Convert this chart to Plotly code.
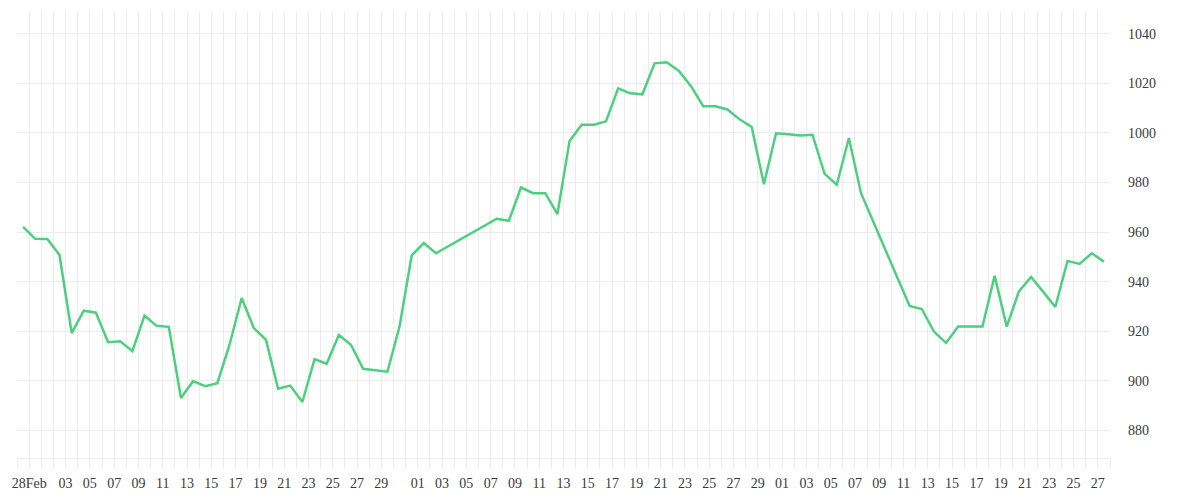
import plotly.graph_objects as go

# ---- data ----
dates = [
    "2023-02-27", "2023-02-28", "2023-03-01", "2023-03-02", "2023-03-03", "2023-03-04",
    "2023-03-05", "2023-03-06", "2023-03-07", "2023-03-08", "2023-03-09", "2023-03-10",
    "2023-03-11", "2023-03-12", "2023-03-13", "2023-03-14", "2023-03-15", "2023-03-16",
    "2023-03-17", "2023-03-18", "2023-03-19", "2023-03-20", "2023-03-21", "2023-03-22",
    "2023-03-23", "2023-03-24", "2023-03-25", "2023-03-26", "2023-03-27", "2023-03-28",
    "2023-03-29", "2023-03-30", "2023-03-31", "2023-04-01", "2023-04-02",
    "2023-04-07", "2023-04-08", "2023-04-09", "2023-04-10", "2023-04-11", "2023-04-12",
    "2023-04-13", "2023-04-14", "2023-04-15", "2023-04-16", "2023-04-17", "2023-04-18",
    "2023-04-19", "2023-04-20", "2023-04-21", "2023-04-22", "2023-04-23", "2023-04-24",
    "2023-04-25", "2023-04-26", "2023-04-27", "2023-04-28", "2023-04-29", "2023-04-30",
    "2023-05-01", "2023-05-02", "2023-05-03", "2023-05-04", "2023-05-05", "2023-05-06",
    "2023-05-07",
    "2023-05-11", "2023-05-12", "2023-05-13", "2023-05-14", "2023-05-15", "2023-05-16",
    "2023-05-17", "2023-05-18", "2023-05-19", "2023-05-20", "2023-05-21", "2023-05-22",
    "2023-05-23", "2023-05-24", "2023-05-25", "2023-05-26", "2023-05-27",
]
values = [
    962.1, 957.3, 957.2, 950.8, 919.3, 928.3,
    927.5, 915.6, 916.0, 912.0, 926.3, 922.2,
    921.8, 893.1, 899.9, 897.9, 899.1, 914.6,
    933.4, 921.3, 916.6, 896.8, 898.1, 891.5,
    908.8, 906.9, 918.5, 914.6, 904.9, 904.2,
    903.7, 921.9, 950.6, 955.6, 951.5,
    965.4, 964.6, 978.0, 975.7, 975.7, 967.3,
    996.8, 1003.3, 1003.3, 1004.7, 1018.0, 1016.0,
    1015.6, 1028.1, 1028.5, 1025.0, 1018.9, 1010.8,
    1010.8, 1009.5, 1005.5, 1002.4, 979.3, 999.9,
    999.5, 999.0, 999.3, 983.5, 979.1, 998.0,
    975.7,
    930.2, 929.0, 919.9, 915.3, 921.9, 921.9,
    921.9, 942.4, 921.9, 936.1, 941.9, 935.9,
    929.8, 948.4, 947.2, 951.5, 948.1,
]

x_tick_dates = [
    "2023-02-28",
    "2023-03-03", "2023-03-05", "2023-03-07", "2023-03-09", "2023-03-11", "2023-03-13",
    "2023-03-15", "2023-03-17", "2023-03-19", "2023-03-21", "2023-03-23", "2023-03-25",
    "2023-03-27", "2023-03-29",
    "2023-04-01", "2023-04-03", "2023-04-05", "2023-04-07", "2023-04-09", "2023-04-11",
    "2023-04-13", "2023-04-15", "2023-04-17", "2023-04-19", "2023-04-21", "2023-04-23",
    "2023-04-25", "2023-04-27", "2023-04-29",
    "2023-05-01", "2023-05-03", "2023-05-05", "2023-05-07", "2023-05-09", "2023-05-11",
    "2023-05-13", "2023-05-15", "2023-05-17", "2023-05-19", "2023-05-21", "2023-05-23",
    "2023-05-25", "2023-05-27",
]
x_tick_text = [
    "28Feb",
    "03", "05", "07", "09", "11", "13", "15", "17", "19", "21", "23", "25", "27", "29",
    "01", "03", "05", "07", "09", "11", "13", "15", "17", "19", "21", "23", "25", "27", "29",
    "01", "03", "05", "07", "09", "11", "13", "15", "17", "19", "21", "23", "25", "27",
]
y_tick_vals = [880, 900, 920, 940, 960, 980, 1000, 1020, 1040]
y_tick_text = ["880", "900", "920", "940", "960", "980", "1000", "1020", "1040"]

x_range = ["2023-02-27 00:00", "2023-05-28 00:00"]
y_range = [868.9, 1048.8]

# ---- figure ----
grid = "#ececec"
x_points = [d + " 12:00" for d in dates]

fig = go.Figure()
fig.add_trace(go.Scatter(
    x=x_points, y=values, mode="lines",
    line=dict(color="#4cd07d", width=2.5),
    hoverinfo="skip", showlegend=False,
))

fig.update_layout(
    width=1192, height=492,
    margin=dict(l=7, r=90, t=4, b=42),
    paper_bgcolor="white", plot_bgcolor="white",
    font=dict(family="Liberation Serif", size=14, color="#3a3a3a"),
    showlegend=False,
)
fig.update_xaxes(
    type="date", range=x_range,
    tickmode="array", tickvals=x_tick_dates, ticktext=x_tick_text,
    showgrid=True, gridcolor=grid, gridwidth=1,
    ticks="outside", ticklen=10, tickcolor=grid, tickwidth=1,
    ticklabelstandoff=2,
    showline=True, linecolor=grid, linewidth=1,
    zeroline=False,
    tickangle=0,
    minor=dict(dtick=86400000, tick0="2023-02-27", showgrid=True, gridcolor=grid,
               gridwidth=1, ticks="outside", ticklen=10, tickcolor=grid, tickwidth=1),
)
fig.update_yaxes(
    side="right", range=y_range,
    tickmode="array", tickvals=y_tick_vals, ticktext=y_tick_text,
    showgrid=True, gridcolor=grid, gridwidth=1,
    ticks="", ticklabelstandoff=17,
    showline=False, zeroline=False,
)

fig.write_html("out.html")
